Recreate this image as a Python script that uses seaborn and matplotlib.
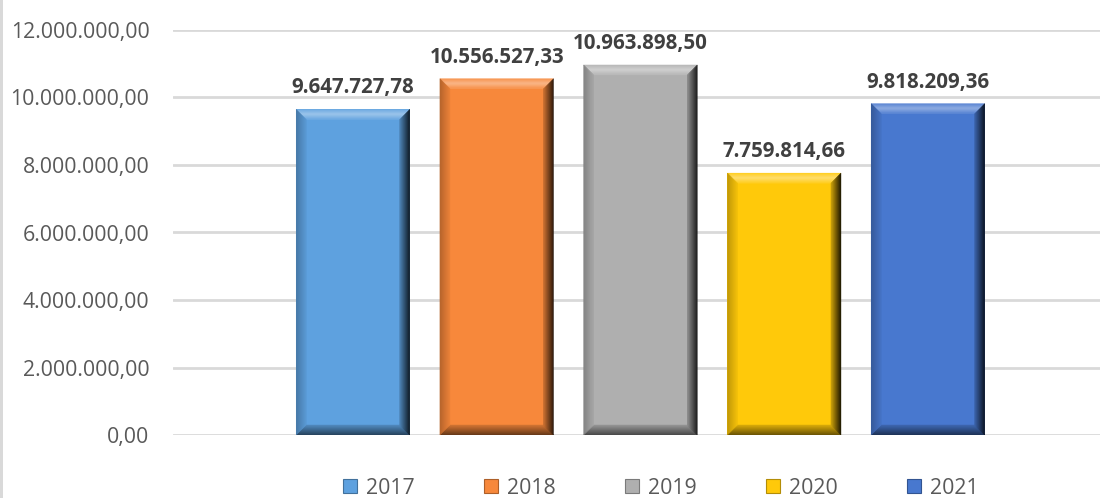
import matplotlib
matplotlib.use("Agg")
import matplotlib.pyplot as plt
import matplotlib.colors as mcolors
from matplotlib.patches import Polygon, Rectangle
from matplotlib.lines import Line2D
import seaborn as sns
import pandas as pd

# Annual totals
years = ["2017", "2018", "2019", "2020", "2021"]
values = [9647727.78, 10556527.33, 10963898.50, 7759814.66, 9818209.36]
colors = ["#5EA1DF", "#F7883B", "#AFAFAF", "#FFC90A", "#4878CF"]
y_ticks = [0, 2000000, 4000000, 6000000, 8000000, 10000000, 12000000]


def br_format(v):
    s = f"{v:,.2f}"
    return s.replace(",", "#").replace(".", ",").replace("#", ".")


sns.set_style("white")
plt.rcParams["font.family"] = ["Open Sans", "DejaVu Sans"]

fig = plt.figure(figsize=(11, 4.98), dpi=100)
ax = fig.add_axes([173 / 1100, 63 / 498, (1100 - 173) / 1100, 405 / 498])

df = pd.DataFrame({"year": years, "value": values})
sns.barplot(data=df, x="year", y="value", hue="year", palette=colors,
            width=0.79, saturation=1, legend=False, ax=ax, zorder=3)

ax.set_xlim(-1.252, 5.197)
ax.set_ylim(0, 12000000)
ax.set_yticks(y_ticks)
ax.set_yticklabels([br_format(t) for t in y_ticks], color="#595959", fontsize=15.3)
ax.tick_params(axis="y", length=0, pad=17)
ax.set_xticks([])
ax.set_xlabel("")
ax.set_ylabel("")
for sp in ax.spines.values():
    sp.set_visible(False)
ax.grid(axis="y", color="#D9D9D9", linewidth=2, zorder=0)
ax.set_axisbelow(True)

# Bevelled bar look
fig.canvas.draw()
bbox = ax.get_window_extent()
x_per_px = (ax.get_xlim()[1] - ax.get_xlim()[0]) / bbox.width
y_per_px = (ax.get_ylim()[1] - ax.get_ylim()[0]) / bbox.height
bev = 10
steps = 10


def shade(c, amt):
    r, g, b = mcolors.to_rgb(c)
    if amt >= 0:
        return (r + (1 - r) * amt, g + (1 - g) * amt, b + (1 - b) * amt)
    a = -amt
    return (r * (1 - a), g * (1 - a), b * (1 - a))


for patch, col, val in zip(ax.patches, colors, values):
    x0, y0 = patch.get_x(), patch.get_y()
    w, h = patch.get_width(), patch.get_height()
    x1, y1 = x0 + w, y0 + h
    patch.set_edgecolor("none")
    for k in range(steps):
        t0 = bev * k / steps
        t1 = bev * (k + 1) / steps
        u = (k + 0.5) / steps
        ax0, ax1 = t0 * x_per_px, t1 * x_per_px
        ay0, ay1 = t0 * y_per_px, t1 * y_per_px
        top = [(x0 + ax0, y1 - ay0), (x1 - ax0, y1 - ay0), (x1 - ax1, y1 - ay1), (x0 + ax1, y1 - ay1)]
        bot = [(x0 + ax0, y0 + ay0), (x1 - ax0, y0 + ay0), (x1 - ax1, y0 + ay1), (x0 + ax1, y0 + ay1)]
        left = [(x0 + ax0, y0 + ay0), (x0 + ax0, y1 - ay0), (x0 + ax1, y1 - ay1), (x0 + ax1, y0 + ay1)]
        right = [(x1 - ax0, y0 + ay0), (x1 - ax0, y1 - ay0), (x1 - ax1, y1 - ay1), (x1 - ax1, y0 + ay1)]
        specs = [
            (top, shade(col, 0.1 + 0.32 * (1 - abs(u - 0.5) * 2))),
            (bot, shade(col, -(0.15 + 0.45 * (1 - u)))),
            (left, shade(col, -(0.05 + 0.22 * (1 - u)))),
            (right, shade(col, -(0.2 + 0.7 * (1 - u)))),
        ]
        for pts, c in specs:
            ax.add_patch(Polygon(pts, closed=True, facecolor=c, edgecolor=c,
                                 linewidth=0.3, zorder=4))
    ax.annotate(br_format(val), (x0 + w / 2, y1), xytext=(0, 11.5),
                textcoords="offset points", ha="center", va="baseline",
                fontsize=14.8, fontweight="bold", color="#404040",
                annotation_clip=False, zorder=5)

# Legend
handles = [Line2D([0], [0], marker="s", linestyle="none", markersize=10,
                  markerfacecolor=c, markeredgecolor=shade(c, -0.3),
                  markeredgewidth=0.8) for c in colors]
leg = fig.legend(handles, years, loc="center", bbox_to_anchor=(0.6, 0.02),
                 ncol=5, frameon=False, fontsize=15.3, handlelength=0.8,
                 handletextpad=0.35, columnspacing=3.2)
for txt in leg.get_texts():
    txt.set_color("#595959")

# Left frame edge
fig.add_artist(Rectangle((0, 0), 3 / 1100, 1, transform=fig.transFigure,
                         facecolor="#D9D9D9", edgecolor="none"))

fig.savefig("out.png", dpi=100)
